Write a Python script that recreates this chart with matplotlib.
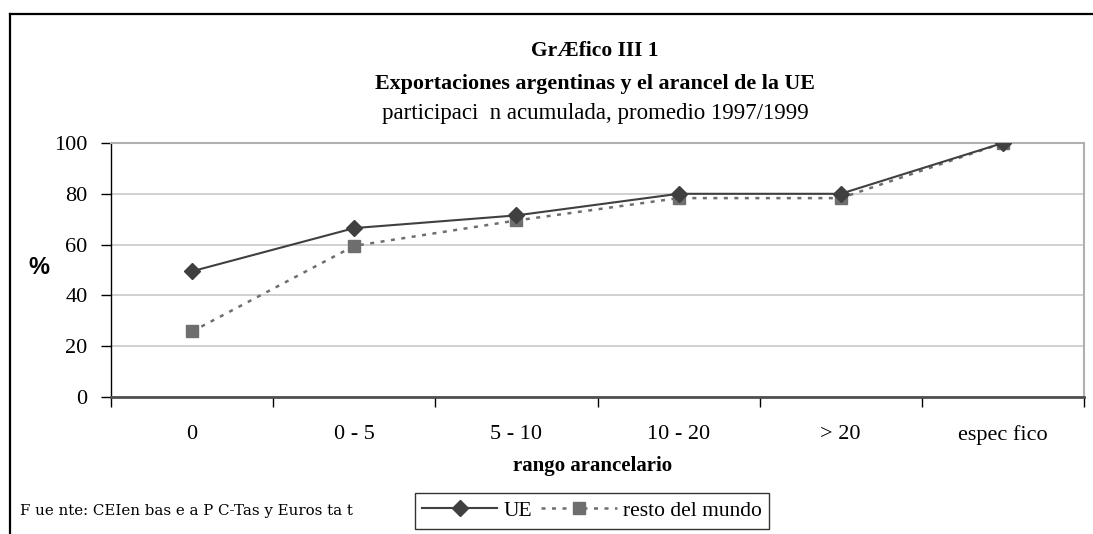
import matplotlib
matplotlib.use("Agg")
import matplotlib.pyplot as plt
from matplotlib.lines import Line2D

categories = ["0", "0 - 5", "5 - 10", "10 - 20", "> 20", "espec fico"]
ue = [49.5, 66.5, 71.5, 80.0, 80.0, 100.0]
resto = [25.8, 59.5, 69.5, 78.3, 78.3, 100.0]
yticks = [0, 20, 40, 60, 80, 100]

serif = ["Liberation Serif", "DejaVu Serif"]
W, H = 1093, 534
fig = plt.figure(figsize=(W / 100, H / 100), dpi=100)


def fx(px):
    return px / W


def fy(py):
    return 1 - py / H


# outer frame
fig.add_artist(Line2D([fx(10), 1.0], [fy(13.5), fy(13.5)], color="black", lw=1.6, transform=fig.transFigure))
fig.add_artist(Line2D([fx(10), fx(10)], [0, fy(13.5)], color="black", lw=1.6, transform=fig.transFigure))

ax = fig.add_axes([fx(111), fy(397), 973 / W, 254 / H])
x = list(range(len(categories)))
ax.plot(x, ue, color="#404040", lw=1.5, marker="D", markersize=8.5, markerfacecolor="#404040",
        markeredgecolor="#404040", label="UE", zorder=3)
ax.plot(x, resto, color="#6e6e6e", lw=1.8, linestyle=(0, (1.6, 2.6)), marker="s", markersize=8,
        markerfacecolor="#6e6e6e", markeredgecolor="#6e6e6e", label="resto del mundo", zorder=2)

ax.set_xlim(-0.5, len(categories) - 0.5)
ax.set_ylim(0, 100)
ax.set_yticks(yticks)
ax.set_yticklabels([str(v) for v in yticks], fontfamily=serif, fontsize=16)
ax.yaxis.grid(True, color="#c8c8c8", lw=1.2)
ax.set_axisbelow(True)

ax.set_xticks([i - 0.5 for i in range(len(categories) + 1)])
ax.set_xticklabels([])
ax.set_xticks(x, minor=True)
ax.set_xticklabels(categories, minor=True, fontfamily=serif, fontsize=16)
ax.tick_params(axis="x", which="major", direction="out", length=7, width=1, color="black")
ax.tick_params(axis="x", which="minor", length=0, pad=20)
ax.tick_params(axis="y", direction="out", length=7, width=1, color="black", pad=10)

ax.spines["left"].set_color("black")
ax.spines["left"].set_linewidth(1)
ax.spines["bottom"].set_color("#505050")
ax.spines["bottom"].set_linewidth(2)
ax.spines["top"].set_color("#b0b0b0")
ax.spines["top"].set_linewidth(1.5)
ax.spines["right"].set_color("#b0b0b0")
ax.spines["right"].set_linewidth(1.5)

fig.text(fx(593), fy(471), "rango arancelario", fontfamily=serif, fontsize=15, fontweight="bold",
         ha="center", va="baseline")

fig.text(fx(39), fy(268), "%", fontsize=17, fontweight="bold", family=["Liberation Sans", "DejaVu Sans"],
         ha="center", va="center")

cx = fx(595)
fig.text(cx, fy(56), "GrÆfico III 1", fontfamily=serif, fontsize=15.5, fontweight="bold",
         ha="center", va="baseline")
fig.text(cx, fy(89), "Exportaciones argentinas y el arancel de la UE", fontfamily=serif, fontsize=15.8,
         fontweight="bold", ha="center", va="baseline")
fig.text(cx, fy(119), "participaci  n acumulada, promedio 1997/1999", fontfamily=serif, fontsize=16.5,
         ha="center", va="baseline")

fig.text(fx(20), fy(511), "F ue nte: CEIen bas e a P C-Tas y Euros ta t",
         fontfamily=["DejaVu Serif"], fontsize=10.8, ha="left", va="center")

leg = ax.legend(loc="center", bbox_to_anchor=(fx(592), fy(511)), bbox_transform=fig.transFigure,
                ncol=2, frameon=True, fancybox=False, prop={"family": serif, "size": 15.5},
                handlelength=3.5, columnspacing=0.4, handletextpad=0.3, borderpad=0.35)
leg.get_frame().set_edgecolor("black")
leg.get_frame().set_linewidth(1)

fig.savefig("out.png", dpi=100)
